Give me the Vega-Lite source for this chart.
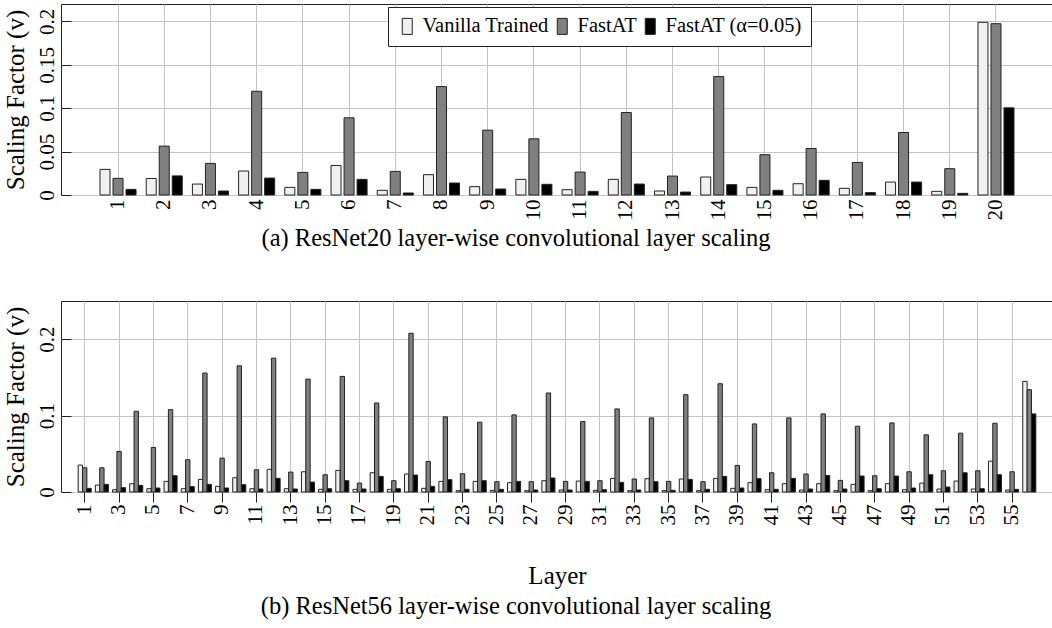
{
  "$schema": "https://vega.github.io/schema/vega-lite/v6.json",
  "padding": {"left": 2, "top": 3, "right": 1, "bottom": 5},
  "background": "white",
  "datasets": {
    "r20": [
      {"layer":1,"series":"Vanilla Trained","v":0.0295},{"layer":1,"series":"FastAT","v":0.0192},{"layer":1,"series":"FastAT (α=0.05)","v":0.0065},
      {"layer":2,"series":"Vanilla Trained","v":0.019},{"layer":2,"series":"FastAT","v":0.0563},{"layer":2,"series":"FastAT (α=0.05)","v":0.022},
      {"layer":3,"series":"Vanilla Trained","v":0.0126},{"layer":3,"series":"FastAT","v":0.0364},{"layer":3,"series":"FastAT (α=0.05)","v":0.0046},
      {"layer":4,"series":"Vanilla Trained","v":0.0276},{"layer":4,"series":"FastAT","v":0.1195},{"layer":4,"series":"FastAT (α=0.05)","v":0.0195},
      {"layer":5,"series":"Vanilla Trained","v":0.0088},{"layer":5,"series":"FastAT","v":0.026},{"layer":5,"series":"FastAT (α=0.05)","v":0.0065},
      {"layer":6,"series":"Vanilla Trained","v":0.034},{"layer":6,"series":"FastAT","v":0.0889},{"layer":6,"series":"FastAT (α=0.05)","v":0.018},
      {"layer":7,"series":"Vanilla Trained","v":0.0054},{"layer":7,"series":"FastAT","v":0.0272},{"layer":7,"series":"FastAT (α=0.05)","v":0.0023},
      {"layer":8,"series":"Vanilla Trained","v":0.0234},{"layer":8,"series":"FastAT","v":0.1249},{"layer":8,"series":"FastAT (α=0.05)","v":0.0138},
      {"layer":9,"series":"Vanilla Trained","v":0.0096},{"layer":9,"series":"FastAT","v":0.0747},{"layer":9,"series":"FastAT (α=0.05)","v":0.0069},
      {"layer":10,"series":"Vanilla Trained","v":0.018},{"layer":10,"series":"FastAT","v":0.0647},{"layer":10,"series":"FastAT (α=0.05)","v":0.0123},
      {"layer":11,"series":"Vanilla Trained","v":0.0061},{"layer":11,"series":"FastAT","v":0.0264},{"layer":11,"series":"FastAT (α=0.05)","v":0.0042},
      {"layer":12,"series":"Vanilla Trained","v":0.018},{"layer":12,"series":"FastAT","v":0.095},{"layer":12,"series":"FastAT (α=0.05)","v":0.0126},
      {"layer":13,"series":"Vanilla Trained","v":0.0046},{"layer":13,"series":"FastAT","v":0.0218},{"layer":13,"series":"FastAT (α=0.05)","v":0.0034},
      {"layer":14,"series":"Vanilla Trained","v":0.0207},{"layer":14,"series":"FastAT","v":0.1364},{"layer":14,"series":"FastAT (α=0.05)","v":0.0119},
      {"layer":15,"series":"Vanilla Trained","v":0.0088},{"layer":15,"series":"FastAT","v":0.0464},{"layer":15,"series":"FastAT (α=0.05)","v":0.0054},
      {"layer":16,"series":"Vanilla Trained","v":0.013},{"layer":16,"series":"FastAT","v":0.0536},{"layer":16,"series":"FastAT (α=0.05)","v":0.0169},
      {"layer":17,"series":"Vanilla Trained","v":0.0077},{"layer":17,"series":"FastAT","v":0.0375},{"layer":17,"series":"FastAT (α=0.05)","v":0.0027},
      {"layer":18,"series":"Vanilla Trained","v":0.0149},{"layer":18,"series":"FastAT","v":0.072},{"layer":18,"series":"FastAT (α=0.05)","v":0.0149},
      {"layer":19,"series":"Vanilla Trained","v":0.0042},{"layer":19,"series":"FastAT","v":0.0303},{"layer":19,"series":"FastAT (α=0.05)","v":0.0019},
      {"layer":20,"series":"Vanilla Trained","v":0.1989},{"layer":20,"series":"FastAT","v":0.1973},{"layer":20,"series":"FastAT (α=0.05)","v":0.1004}
    ],
    "r56": [
      {"layer":1,"series":"Vanilla Trained","v":0.0352},{"layer":1,"series":"FastAT","v":0.0317},{"layer":1,"series":"FastAT (α=0.05)","v":0.0048},
      {"layer":2,"series":"Vanilla Trained","v":0.0091},{"layer":2,"series":"FastAT","v":0.0317},{"layer":2,"series":"FastAT (α=0.05)","v":0.01},
      {"layer":3,"series":"Vanilla Trained","v":0.003},{"layer":3,"series":"FastAT","v":0.053},{"layer":3,"series":"FastAT (α=0.05)","v":0.0057},
      {"layer":4,"series":"Vanilla Trained","v":0.0109},{"layer":4,"series":"FastAT","v":0.1057},{"layer":4,"series":"FastAT (α=0.05)","v":0.0087},
      {"layer":5,"series":"Vanilla Trained","v":0.0043},{"layer":5,"series":"FastAT","v":0.0583},{"layer":5,"series":"FastAT (α=0.05)","v":0.0052},
      {"layer":6,"series":"Vanilla Trained","v":0.0139},{"layer":6,"series":"FastAT","v":0.1078},{"layer":6,"series":"FastAT (α=0.05)","v":0.0213},
      {"layer":7,"series":"Vanilla Trained","v":0.0043},{"layer":7,"series":"FastAT","v":0.0422},{"layer":7,"series":"FastAT (α=0.05)","v":0.007},
      {"layer":8,"series":"Vanilla Trained","v":0.0165},{"layer":8,"series":"FastAT","v":0.1557},{"layer":8,"series":"FastAT (α=0.05)","v":0.01},
      {"layer":9,"series":"Vanilla Trained","v":0.0074},{"layer":9,"series":"FastAT","v":0.0443},{"layer":9,"series":"FastAT (α=0.05)","v":0.0052},
      {"layer":10,"series":"Vanilla Trained","v":0.0187},{"layer":10,"series":"FastAT","v":0.1652},{"layer":10,"series":"FastAT (α=0.05)","v":0.0096},
      {"layer":11,"series":"Vanilla Trained","v":0.0043},{"layer":11,"series":"FastAT","v":0.0291},{"layer":11,"series":"FastAT (α=0.05)","v":0.0039},
      {"layer":12,"series":"Vanilla Trained","v":0.0296},{"layer":12,"series":"FastAT","v":0.1752},{"layer":12,"series":"FastAT (α=0.05)","v":0.0178},
      {"layer":13,"series":"Vanilla Trained","v":0.0043},{"layer":13,"series":"FastAT","v":0.0261},{"layer":13,"series":"FastAT (α=0.05)","v":0.0039},
      {"layer":14,"series":"Vanilla Trained","v":0.0265},{"layer":14,"series":"FastAT","v":0.1478},{"layer":14,"series":"FastAT (α=0.05)","v":0.013},
      {"layer":15,"series":"Vanilla Trained","v":0.0035},{"layer":15,"series":"FastAT","v":0.0226},{"layer":15,"series":"FastAT (α=0.05)","v":0.0043},
      {"layer":16,"series":"Vanilla Trained","v":0.0283},{"layer":16,"series":"FastAT","v":0.1513},{"layer":16,"series":"FastAT (α=0.05)","v":0.0148},
      {"layer":17,"series":"Vanilla Trained","v":0.0035},{"layer":17,"series":"FastAT","v":0.0117},{"layer":17,"series":"FastAT (α=0.05)","v":0.0039},
      {"layer":18,"series":"Vanilla Trained","v":0.0252},{"layer":18,"series":"FastAT","v":0.1165},{"layer":18,"series":"FastAT (α=0.05)","v":0.0204},
      {"layer":19,"series":"Vanilla Trained","v":0.0035},{"layer":19,"series":"FastAT","v":0.0148},{"layer":19,"series":"FastAT (α=0.05)","v":0.0043},
      {"layer":20,"series":"Vanilla Trained","v":0.0235},{"layer":20,"series":"FastAT","v":0.2078},{"layer":20,"series":"FastAT (α=0.05)","v":0.0222},
      {"layer":21,"series":"Vanilla Trained","v":0.0048},{"layer":21,"series":"FastAT","v":0.04},{"layer":21,"series":"FastAT (α=0.05)","v":0.0074},
      {"layer":22,"series":"Vanilla Trained","v":0.0139},{"layer":22,"series":"FastAT","v":0.0983},{"layer":22,"series":"FastAT (α=0.05)","v":0.0161},
      {"layer":23,"series":"Vanilla Trained","v":0.0017},{"layer":23,"series":"FastAT","v":0.0239},{"layer":23,"series":"FastAT (α=0.05)","v":0.0035},
      {"layer":24,"series":"Vanilla Trained","v":0.0139},{"layer":24,"series":"FastAT","v":0.0913},{"layer":24,"series":"FastAT (α=0.05)","v":0.0148},
      {"layer":25,"series":"Vanilla Trained","v":0.0022},{"layer":25,"series":"FastAT","v":0.0135},{"layer":25,"series":"FastAT (α=0.05)","v":0.0035},
      {"layer":26,"series":"Vanilla Trained","v":0.0122},{"layer":26,"series":"FastAT","v":0.1009},{"layer":26,"series":"FastAT (α=0.05)","v":0.0139},
      {"layer":27,"series":"Vanilla Trained","v":0.0017},{"layer":27,"series":"FastAT","v":0.0135},{"layer":27,"series":"FastAT (α=0.05)","v":0.0026},
      {"layer":28,"series":"Vanilla Trained","v":0.0148},{"layer":28,"series":"FastAT","v":0.1296},{"layer":28,"series":"FastAT (α=0.05)","v":0.0183},
      {"layer":29,"series":"Vanilla Trained","v":0.0026},{"layer":29,"series":"FastAT","v":0.0139},{"layer":29,"series":"FastAT (α=0.05)","v":0.0026},
      {"layer":30,"series":"Vanilla Trained","v":0.0143},{"layer":30,"series":"FastAT","v":0.0922},{"layer":30,"series":"FastAT (α=0.05)","v":0.0139},
      {"layer":31,"series":"Vanilla Trained","v":0.0022},{"layer":31,"series":"FastAT","v":0.0148},{"layer":31,"series":"FastAT (α=0.05)","v":0.003},
      {"layer":32,"series":"Vanilla Trained","v":0.0178},{"layer":32,"series":"FastAT","v":0.1087},{"layer":32,"series":"FastAT (α=0.05)","v":0.0126},
      {"layer":33,"series":"Vanilla Trained","v":0.0017},{"layer":33,"series":"FastAT","v":0.017},{"layer":33,"series":"FastAT (α=0.05)","v":0.0026},
      {"layer":34,"series":"Vanilla Trained","v":0.0174},{"layer":34,"series":"FastAT","v":0.097},{"layer":34,"series":"FastAT (α=0.05)","v":0.0135},
      {"layer":35,"series":"Vanilla Trained","v":0.0017},{"layer":35,"series":"FastAT","v":0.0139},{"layer":35,"series":"FastAT (α=0.05)","v":0.0022},
      {"layer":36,"series":"Vanilla Trained","v":0.017},{"layer":36,"series":"FastAT","v":0.1274},{"layer":36,"series":"FastAT (α=0.05)","v":0.0165},
      {"layer":37,"series":"Vanilla Trained","v":0.0017},{"layer":37,"series":"FastAT","v":0.0135},{"layer":37,"series":"FastAT (α=0.05)","v":0.0035},
      {"layer":38,"series":"Vanilla Trained","v":0.0178},{"layer":38,"series":"FastAT","v":0.1417},{"layer":38,"series":"FastAT (α=0.05)","v":0.0204},
      {"layer":39,"series":"Vanilla Trained","v":0.0048},{"layer":39,"series":"FastAT","v":0.0348},{"layer":39,"series":"FastAT (α=0.05)","v":0.0052},
      {"layer":40,"series":"Vanilla Trained","v":0.0122},{"layer":40,"series":"FastAT","v":0.0891},{"layer":40,"series":"FastAT (α=0.05)","v":0.0174},
      {"layer":41,"series":"Vanilla Trained","v":0.003},{"layer":41,"series":"FastAT","v":0.0252},{"layer":41,"series":"FastAT (α=0.05)","v":0.0035},
      {"layer":42,"series":"Vanilla Trained","v":0.0109},{"layer":42,"series":"FastAT","v":0.097},{"layer":42,"series":"FastAT (α=0.05)","v":0.0178},
      {"layer":43,"series":"Vanilla Trained","v":0.0026},{"layer":43,"series":"FastAT","v":0.0235},{"layer":43,"series":"FastAT (α=0.05)","v":0.0039},
      {"layer":44,"series":"Vanilla Trained","v":0.0109},{"layer":44,"series":"FastAT","v":0.1022},{"layer":44,"series":"FastAT (α=0.05)","v":0.0217},
      {"layer":45,"series":"Vanilla Trained","v":0.0017},{"layer":45,"series":"FastAT","v":0.0152},{"layer":45,"series":"FastAT (α=0.05)","v":0.0039},
      {"layer":46,"series":"Vanilla Trained","v":0.01},{"layer":46,"series":"FastAT","v":0.0861},{"layer":46,"series":"FastAT (α=0.05)","v":0.0209},
      {"layer":47,"series":"Vanilla Trained","v":0.0017},{"layer":47,"series":"FastAT","v":0.0213},{"layer":47,"series":"FastAT (α=0.05)","v":0.0043},
      {"layer":48,"series":"Vanilla Trained","v":0.0109},{"layer":48,"series":"FastAT","v":0.0904},{"layer":48,"series":"FastAT (α=0.05)","v":0.0209},
      {"layer":49,"series":"Vanilla Trained","v":0.003},{"layer":49,"series":"FastAT","v":0.0265},{"layer":49,"series":"FastAT (α=0.05)","v":0.0052},
      {"layer":50,"series":"Vanilla Trained","v":0.0117},{"layer":50,"series":"FastAT","v":0.0748},{"layer":50,"series":"FastAT (α=0.05)","v":0.0226},
      {"layer":51,"series":"Vanilla Trained","v":0.0039},{"layer":51,"series":"FastAT","v":0.0278},{"layer":51,"series":"FastAT (α=0.05)","v":0.0065},
      {"layer":52,"series":"Vanilla Trained","v":0.0143},{"layer":52,"series":"FastAT","v":0.077},{"layer":52,"series":"FastAT (α=0.05)","v":0.0252},
      {"layer":53,"series":"Vanilla Trained","v":0.0039},{"layer":53,"series":"FastAT","v":0.0278},{"layer":53,"series":"FastAT (α=0.05)","v":0.0043},
      {"layer":54,"series":"Vanilla Trained","v":0.0404},{"layer":54,"series":"FastAT","v":0.09},{"layer":54,"series":"FastAT (α=0.05)","v":0.0226},
      {"layer":55,"series":"Vanilla Trained","v":0.0026},{"layer":55,"series":"FastAT","v":0.0265},{"layer":55,"series":"FastAT (α=0.05)","v":0.0035},
      {"layer":56,"series":"Vanilla Trained","v":0.1448},{"layer":56,"series":"FastAT","v":0.1339},{"layer":56,"series":"FastAT (α=0.05)","v":0.1022}
    ]
  },
  "config": {
    "font": "Liberation Serif",
    "view": {"stroke": "#222", "strokeWidth": 1},
    "axis": {
      "domain": false,
      "gridColor": "#c4c4c4",
      "gridWidth": 1,
      "gridOpacity": 1,
      "labelFont": "Liberation Serif",
      "labelFontSize": 21,
      "labelColor": "black",
      "titleFont": "Liberation Serif",
      "titleFontSize": 25,
      "titleFontWeight": "normal",
      "titleColor": "black",
      "tickColor": "#222",
      "tickWidth": 1
    },
    "title": {"font": "Liberation Serif", "fontSize": 24.5, "fontWeight": "normal", "color": "black", "orient": "bottom", "anchor": "middle", "dx": -41},
    "bar": {"stroke": "#222", "strokeWidth": 1},
    "legend": {"labelFont": "Liberation Serif", "labelColor": "black"}
  },
  "spacing": 49,
  "resolve": {"legend": {"color": "independent"}, "scale": {"xOffset": "independent", "x": "independent"}},
  "vconcat": [
    {
      "width": 992,
      "height": 191,
      "data": {"name": "r20"},
      "title": {"text": "(a) ResNet20 layer-wise convolutional layer scaling", "offset": 7},
      "mark": {"type": "bar"},
      "encoding": {
        "x": {
          "field": "layer", "type": "ordinal",
          "scale": {"paddingInner": 0.22, "paddingOuter": 0.844},
          "axis": {"title": null, "labelAngle": -90, "ticks": false, "labelPadding": 4, "grid": true, "bandPosition": 0.5}
        },
        "xOffset": {
          "field": "series", "type": "nominal",
          "sort": ["Vanilla Trained", "FastAT", "FastAT (α=0.05)"],
          "scale": {"paddingInner": 0.23, "paddingOuter": 0}
        },
        "y": {
          "field": "v", "type": "quantitative",
          "scale": {"domain": [0, 0.22], "nice": false},
          "axis": {"title": "Scaling Factor (v)", "values": [0, 0.05, 0.1, 0.15, 0.2], "format": "~g", "labelAngle": -90, "tickSize": -10, "labelPadding": 14, "titlePadding": 8, "grid": true}
        },
        "color": {
          "field": "series", "type": "nominal",
          "scale": {"domain": ["Vanilla Trained", "FastAT", "FastAT (α=0.05)"], "range": ["#f0f0f0", "#808080", "#000000"]},
          "legend": {
            "orient": "none", "legendX": 327, "legendY": 3, "direction": "horizontal",
            "title": null, "strokeColor": "#222", "fillColor": "white", "padding": 9,
            "labelFontSize": 20.5, "symbolType": "M-0.625,-1H0.625V1H-0.625Z", "symbolSize": 256,
            "symbolStrokeColor": "#222", "symbolStrokeWidth": 1, "symbolOpacity": 1,
            "columnPadding": 3, "labelOffset": 5
          }
        }
      }
    },
    {
      "width": 992,
      "height": 191,
      "data": {"name": "r56"},
      "title": {"text": "(b) ResNet56 layer-wise convolutional layer scaling", "offset": 7},
      "mark": {"type": "bar"},
      "encoding": {
        "x": {
          "field": "layer", "type": "ordinal",
          "scale": {"paddingInner": 0.24, "paddingOuter": 1.2},
          "axis": {"title": "Layer", "values": [1,3,5,7,9,11,13,15,17,19,21,23,25,27,29,31,33,35,37,39,41,43,45,47,49,51,53,55], "labelAngle": -90, "ticks": true, "tickSize": 10, "labelPadding": 2, "titlePadding": 38, "grid": true, "bandPosition": 0.5}
        },
        "xOffset": {
          "field": "series", "type": "nominal",
          "sort": ["Vanilla Trained", "FastAT", "FastAT (α=0.05)"],
          "scale": {"paddingInner": 0, "paddingOuter": 0}
        },
        "y": {
          "field": "v", "type": "quantitative",
          "scale": {"domain": [0, 0.25], "nice": false},
          "axis": {"title": "Scaling Factor (v)", "values": [0, 0.1, 0.2], "format": "~g", "labelAngle": -90, "tickSize": -10, "labelPadding": 14, "titlePadding": 8, "grid": true}
        },
        "color": {
          "field": "series", "type": "nominal",
          "scale": {"domain": ["Vanilla Trained", "FastAT", "FastAT (α=0.05)"], "range": ["#f0f0f0", "#808080", "#000000"]},
          "legend": null
        }
      }
    }
  ]
}
